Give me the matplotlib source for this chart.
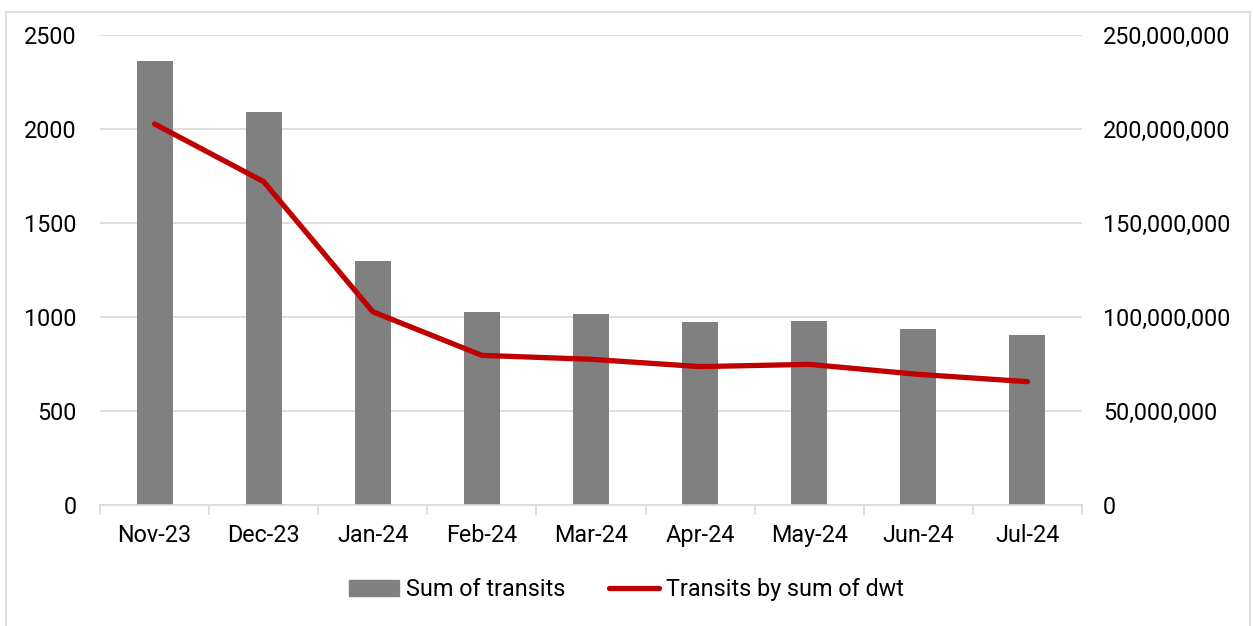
import matplotlib.pyplot as plt
from matplotlib.patches import Rectangle
from matplotlib.lines import Line2D
from matplotlib.ticker import FuncFormatter, FixedLocator

months = ["Nov-23", "Dec-23", "Jan-24", "Feb-24", "Mar-24", "Apr-24", "May-24", "Jun-24", "Jul-24"]
transits = [2363, 2089, 1300, 1025, 1018, 973, 980, 936, 906]
dwt = [202.7e6, 172.0e6, 102.8e6, 79.6e6, 77.5e6, 73.6e6, 74.8e6, 69.5e6, 65.6e6]

plt.rcParams["font.family"] = ["Roboto", "DejaVu Sans"]
plt.rcParams["font.size"] = 16.8

fig = plt.figure(figsize=(12.53, 6.26), dpi=100)
ax = fig.add_axes([0.0798, 0.1933, 0.7837, 0.7508])
ax2 = ax.twinx()

x = list(range(len(months)))
ax.bar(x, transits, width=0.33, color="#808080", zorder=2)
ax2.plot(x, dwt, color="#C00000", lw=3.8, solid_capstyle="round",
         solid_joinstyle="round", zorder=3)

ax.set_xlim(-0.5, len(months) - 0.5)
ax.set_ylim(0, 2500)
ax.set_yticks(range(0, 2501, 500))
ax2.set_ylim(0, 250e6)
ax2.set_yticks([i * 50e6 for i in range(6)])
ax2.yaxis.set_major_formatter(FuncFormatter(lambda v, p: f"{v:,.0f}"))

ax.set_xticks(x)
ax.set_xticklabels(months)
ax.xaxis.set_minor_locator(FixedLocator([i - 0.5 for i in range(len(months) + 1)]))
ax.tick_params(axis="x", which="major", length=0, pad=14)
ax.tick_params(axis="x", which="minor", length=7, color="#D9D9D9", width=1.2)
ax.tick_params(axis="y", length=0, pad=17)
ax2.tick_params(axis="y", length=0, pad=15)

ax.grid(axis="y", color="#D9D9D9", lw=1.2, zorder=0)
ax.set_axisbelow(True)
for a in (ax, ax2):
    for s in ("top", "left", "right"):
        a.spines[s].set_visible(False)
ax.spines["bottom"].set_color("#D9D9D9")
ax.spines["bottom"].set_linewidth(1.2)
ax2.spines["bottom"].set_visible(False)

handles = [Rectangle((0, 0), 1, 1, color="#808080"),
           Line2D([], [], color="#C00000", lw=3.8, solid_capstyle="round")]
fig.legend(handles, ["Sum of transits", "Transits by sum of dwt"],
           loc="center", bbox_to_anchor=(0.5, 0.058), ncol=2, frameon=False,
           handlelength=2.15, handletextpad=0.3, columnspacing=1.85)

fig.patches.append(Rectangle((6 / 1253, -0.02), 1244 / 1253, 0.01 + 620 / 626,
                             transform=fig.transFigure, fill=False,
                             edgecolor="#D9D9D9", lw=1.2))

fig.savefig("out.png", dpi=100)
